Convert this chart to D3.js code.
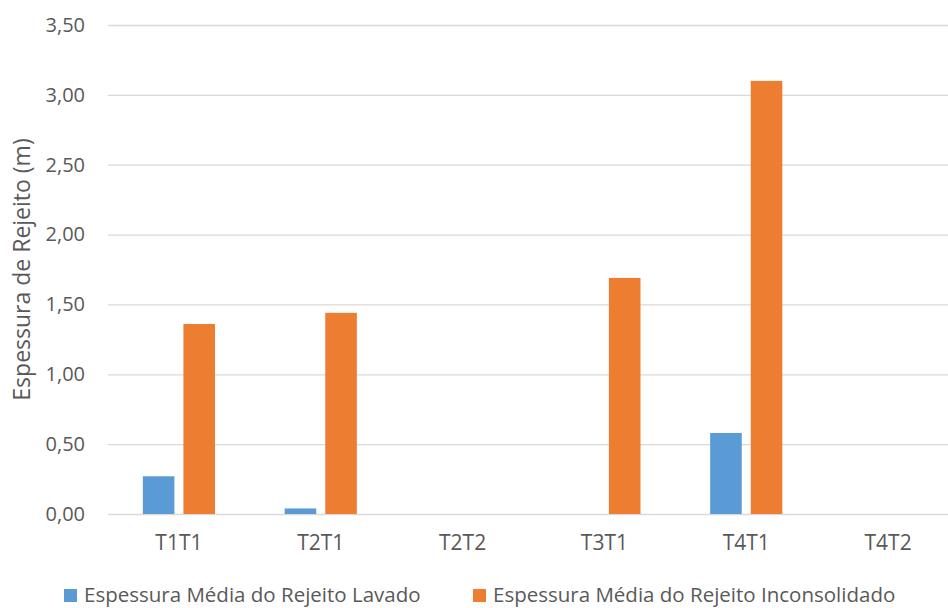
<!DOCTYPE html>
<html>
<head>
<meta charset="utf-8">
<script src="https://cdn.jsdelivr.net/npm/d3@7"></script>
<style>
  html, body { margin: 0; padding: 0; background: #fff; }
  svg { display: block; }
  text { font-family: "Open Sans", "Noto Sans", sans-serif; fill: #595959; }
</style>
</head>
<body>
<svg id="chart" width="948" height="608"></svg>
<script>
// Sampling points along the tailings deposit
const categories = ["T1T1", "T2T1", "T2T2", "T3T1", "T4T1", "T4T2"];
// Mean thickness (m) per point, one array per series
const lavado = [0.27, 0.04, 0, 0, 0.58, 0];
const inconsolidado = [1.36, 1.44, 0, 1.69, 3.10, 0];
const seriesNames = ["Espessura Média do Rejeito Lavado", "Espessura Média do Rejeito Inconsolidado"];
const seriesColors = ["#5B9BD5", "#ED7D31"];
const yTicks = [0, 0.5, 1, 1.5, 2, 2.5, 3, 3.5];
const yTitle = "Espessura de Rejeito (m)";

const svg = d3.select("#chart");
const plot = { left: 108, right: 959, top: 25, bottom: 514 };

const x = d3.scaleBand().domain(categories).range([plot.left, plot.right]).paddingInner(0).paddingOuter(0);
const inner = d3.scaleBand().domain([0, 1]).range([0, x.bandwidth()]).paddingInner(0.222).paddingOuter(0.858);
const y = d3.scaleLinear().domain([0, 3.5]).range([plot.bottom, plot.top]);

const fmt = v => d3.format(".2f")(v).replace(".", ",");

// horizontal gridlines + tick labels
const yAxis = d3.axisLeft(y).tickValues(yTicks).tickFormat(fmt)
  .tickSize(-(plot.right - plot.left)).tickPadding(23);
const gy = svg.append("g").attr("transform", `translate(${plot.left},0)`).call(yAxis);
gy.select(".domain").remove();
gy.selectAll(".tick line").attr("stroke", "#D9D9D9").attr("stroke-width", 1.3);
gy.selectAll(".tick text").style("font-size", "20px").attr("fill", "#595959");

// category labels under the zero gridline
const xAxis = d3.axisBottom(x).tickSize(0).tickPadding(21);
const gx = svg.append("g").attr("transform", `translate(0,${plot.bottom})`).call(xAxis);
gx.select(".domain").remove();
gx.selectAll(".tick text").style("font-size", "21px").attr("fill", "#595959");

// bars
const series = [lavado, inconsolidado];
series.forEach((vals, si) => {
  svg.append("g").selectAll("rect")
    .data(categories.map((c, i) => ({ c, v: vals[i] })).filter(d => d.v > 0))
    .join("rect")
    .attr("x", d => x(d.c) + inner(si))
    .attr("width", inner.bandwidth())
    .attr("y", d => y(d.v))
    .attr("height", d => y(0) - y(d.v))
    .attr("fill", seriesColors[si]);
});

// y axis title
svg.append("text")
  .attr("transform", `translate(30,${(plot.top + plot.bottom) / 2}) rotate(-90)`)
  .attr("text-anchor", "middle")
  .style("font-size", "23px")
  .text(yTitle);

// legend
const legendItems = [
  { x: 64, name: seriesNames[0], color: seriesColors[0] },
  { x: 473, name: seriesNames[1], color: seriesColors[1] }
];
const lg = svg.append("g");
legendItems.forEach(it => {
  lg.append("rect").attr("x", it.x).attr("y", 589).attr("width", 13).attr("height", 13).attr("fill", it.color);
  lg.append("text").attr("x", it.x + 20).attr("y", 602).style("font-size", "20.5px").text(it.name);
});
</script>
</body>
</html>
